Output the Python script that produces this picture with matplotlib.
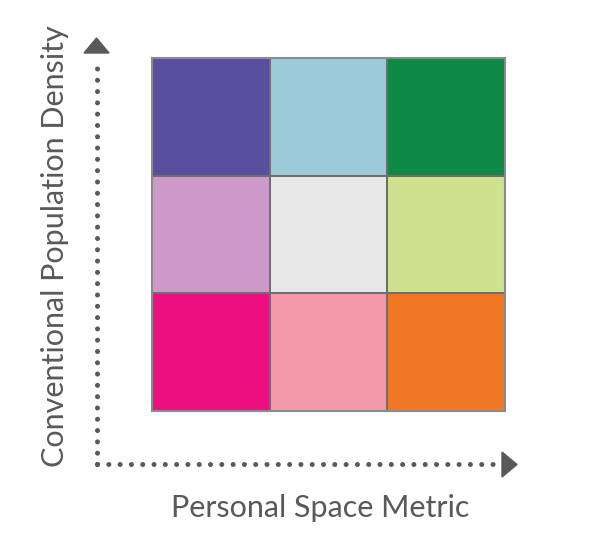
import matplotlib
matplotlib.use("Agg")
import matplotlib.pyplot as plt
import numpy as np
from matplotlib.colors import ListedColormap
from matplotlib.patches import Polygon

# Data: 3x3 bivariate grid (rows from bottom to top, columns left to right)
x_levels = ["Low", "Medium", "High"]
y_levels = ["Low", "Medium", "High"]
cell_colors = [
    ["#EC0F80", "#F499A7", "#F07824"],   # bottom row
    ["#CC99C8", "#E6E7E6", "#D0E18E"],   # middle row
    ["#5A4F9F", "#9CCAD8", "#0F8A46"],   # top row
]
x_label = "Personal Space Metric"
y_label = "Conventional Population Density"

W, H = 600, 545
fig = plt.figure(figsize=(W / 100, H / 100), dpi=100)
fig.patch.set_facecolor("white")

# Overlay axes in pixel coordinates for arrows and labels
ov = fig.add_axes([0, 0, 1, 1])
ov.set_xlim(0, W)
ov.set_ylim(H, 0)
ov.axis("off")

# Grid axes
gl, gt, gr, gb = 152, 58, 505, 411
ax = fig.add_axes([gl / W, 1 - gb / H, (gr - gl) / W, (gb - gt) / H])
flat = [c for row in cell_colors for c in row]
cmap = ListedColormap(flat)
idx = np.arange(len(flat)).reshape(len(y_levels), len(x_levels))
ax.pcolormesh(np.arange(len(x_levels) + 1), np.arange(len(y_levels) + 1), idx,
              cmap=cmap, vmin=-0.5, vmax=len(flat) - 0.5,
              edgecolors="#6D6E71", linewidth=1.2)
ax.set_xlim(0, len(x_levels))
ax.set_ylim(0, len(y_levels))
ax.set_xticks([])
ax.set_yticks([])
for s in ax.spines.values():
    s.set_edgecolor("#8A8B8D")
    s.set_linewidth(1.5)

grey = "#58595B"
lw = 3.6
dot_style = (0, (0.01, 2.25))
# vertical dotted axis
ov.plot([97, 97], [464, 59], color=grey, lw=lw, linestyle=dot_style,
        solid_capstyle="round", dash_capstyle="round")
ov.add_patch(Polygon([[84, 53], [109, 53], [96.5, 38]], closed=True, color=grey))
# horizontal dotted axis
ov.plot([97, 498], [464, 464], color=grey, lw=lw, linestyle=dot_style,
        solid_capstyle="round", dash_capstyle="round")
ov.add_patch(Polygon([[502, 452], [502, 477], [517, 464.5]], closed=True, color=grey))

font = "Lato"
ov.text(320, 508, x_label, ha="center", va="center", fontsize=22,
        color="#58595B", family=font)
ov.text(55, 246, y_label, ha="center", va="center", rotation=90, fontsize=22,
        color="#58595B", family=font)

fig.savefig("out.png", dpi=100, facecolor="white")
